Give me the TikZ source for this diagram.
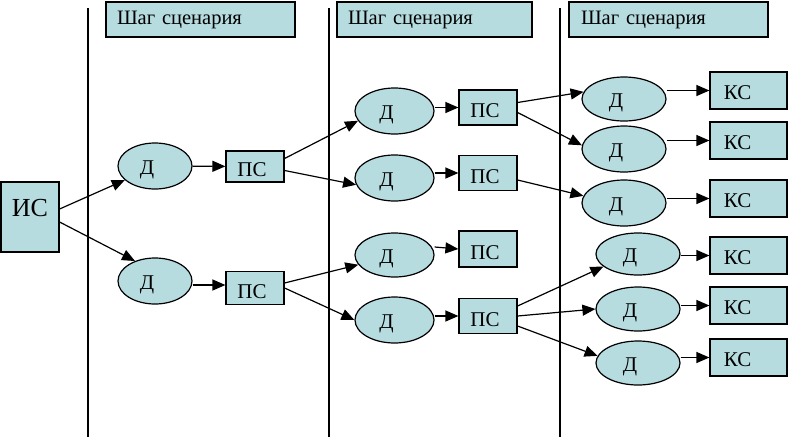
\documentclass[tikz,border=0pt]{standalone}
\usepackage{fontspec}
\setmainfont{Liberation Serif}
\usetikzlibrary{shapes.geometric,arrows.meta,calc}
\definecolor{fillc}{RGB}{182,220,224}
\tikzset{
  box/.style={draw,fill=fillc,line width=1.2pt,inner sep=0pt,rectangle,font=\fontsize{21}{22}\selectfont},
  ell/.style={draw,fill=fillc,line width=1.2pt,inner sep=0pt,ellipse,font=\fontsize{21}{22}\selectfont},
  hdr/.style={draw,fill=fillc,line width=1.2pt,inner sep=0pt,rectangle,minimum height=35pt,text width=175pt,align=left,font=\fontsize{20.5}{22}\selectfont},
  arr/.style={line width=1.2pt,-{Triangle[length=13pt,width=11pt]}},
  sep/.style={line width=1.2pt}
}
\newcommand{\dd}{\raisebox{-3pt}[14pt][4pt]{Д}\hspace*{16pt}}
\newcommand{\ps}{\raisebox{-3pt}[14pt][0pt]{ПС}\hspace*{6pt}}
\newcommand{\ks}{\raisebox{-1.5pt}[14pt][0pt]{КС}\hspace*{22pt}}
\begin{document}
\begin{tikzpicture}[x=1pt,y=-1pt]
\useasboundingbox (0,0) rectangle (788,437);
% separators
\coordinate (s1t) at (88,8);   \coordinate (s1b) at (88,437);
\coordinate (s2t) at (329,8);  \coordinate (s2b) at (329,437);
\coordinate (s3t) at (560,8);  \coordinate (s3b) at (560,437);
\draw[sep] (s1t) -- (s1b);
\draw[sep] (s2t) -- (s2b);
\draw[sep] (s3t) -- (s3b);
% headers
\node[hdr,minimum width=189pt] (h1) at (200.5,19.5) {\hspace*{4pt}Шаг сценария};
\node[hdr,minimum width=195pt] (h2) at (434.5,19.5) {\hspace*{1pt}Шаг сценария};
\node[hdr,minimum width=199pt] (h3) at (668.5,19.5) {\hspace*{0pt}Шаг сценария};
% initial
\node[box,minimum width=58pt,minimum height=70pt,font=\fontsize{26}{28}\selectfont] (IS) at (30,217) {\raisebox{10pt}[18pt][0pt]{ИС}};
% column 1
\node[ell,minimum width=74pt,minimum height=46pt] (D1) at (155,166) {\dd};
\node[box,minimum width=58pt,minimum height=31pt] (P1) at (255,166.5) {\ps};
\node[ell,minimum width=74pt,minimum height=46pt] (D2) at (155,281) {\dd};
\node[box,minimum width=58pt,minimum height=33pt] (P2) at (255,288) {\ps};
% column 2
\node[ell,minimum width=79pt,minimum height=46pt] (Da) at (394.5,111) {\dd};
\node[box,minimum width=58pt,minimum height=35pt] (Pa) at (488,107.5) {\ps};
\node[ell,minimum width=79pt,minimum height=46pt] (Db) at (394.5,178) {\dd};
\node[box,minimum width=58pt,minimum height=35pt] (Pb) at (488,173) {\ps};
\node[ell,minimum width=79pt,minimum height=44pt] (Dc) at (394.5,255) {\dd};
\node[box,minimum width=58pt,minimum height=36pt] (Pc) at (488,249) {\ps};
\node[ell,minimum width=79pt,minimum height=46pt] (Dd) at (394.5,320) {\dd};
\node[box,minimum width=58pt,minimum height=35pt] (Pd) at (488,316) {\ps};
% column 3
\node[ell,minimum width=84pt,minimum height=44pt] (E1) at (624,99) {\dd};
\node[ell,minimum width=84pt,minimum height=46pt] (E2) at (624,149) {\dd};
\node[ell,minimum width=84pt,minimum height=46pt] (E3) at (624,203) {\dd};
\node[ell,minimum width=84pt,minimum height=42pt] (E4) at (638,254) {\dd};
\node[ell,minimum width=84pt,minimum height=44pt] (E5) at (638,309) {\dd};
\node[ell,minimum width=84pt,minimum height=44pt] (E6) at (638,363) {\dd};
\node[box,minimum width=77pt,minimum height=37pt] (K1) at (748.5,90.5) {\ks};
\node[box,minimum width=77pt,minimum height=37pt] (K2) at (748.5,140.5) {\ks};
\node[box,minimum width=77pt,minimum height=37pt] (K3) at (748.5,198.5) {\ks};
\node[box,minimum width=77pt,minimum height=37pt] (K4) at (748.5,255.5) {\ks};
\node[box,minimum width=77pt,minimum height=37pt] (K5) at (748.5,305.5) {\ks};
\node[box,minimum width=77pt,minimum height=37pt] (K6) at (748.5,357.5) {\ks};
% connectors
\draw[arr] ($(IS.east)+(0,-8)$) -- (D1.205);
\draw[arr] ($(IS.east)+(0,5)$) -- (D2.135);
\draw[arr] (D1) -- (P1);
\draw[arr] (D2.east |- 0,285) -- (P2.west |- 0,285);
\draw[arr] ($(P1.east)+(0,-8)$) -- (Da.195);
\draw[arr] ($(P1.east)+(0,4)$) -- (Db.190);
\draw[arr] ($(P2.east)+(0,-5)$) -- (Dc.195);
\draw[arr] ($(P2.east)+(0,0)$) -- (Dd.180);
\draw[arr] (Da.east |- Pa.west) -- (Pa.west);
\draw[arr] (Db.east |- Pb.west) -- (Pb.west);
\draw[arr] ($(Dc.east)+(0,-8)$) -- ($(Pc.west)+(0,0)$);
\draw[arr] ($(Dd.east)+(0,-4)$) -- ($(Pd.west)+(0,0)$);
\draw[arr] ($(Pa.east)+(0,-5)$) -- (E1.170);
\draw[arr] ($(Pa.east)+(0,5)$) -- (E2.175);
\draw[arr] ($(Pb.east)+(0,7)$) -- (E3.170);
\draw[arr] ($(Pd.east)+(0,-10)$) -- (E4.200);
\draw[arr] ($(Pd.east)+(0,0)$) -- (E5.180);
\draw[arr] ($(Pd.east)+(0,10)$) -- (E6.170);
\draw[arr] (E1.east |- K1.west) -- (K1.west);
\draw[arr] (E2.east |- K2.west) -- (K2.west);
\draw[arr] (E3.east |- K3.west) -- (K3.west);
\draw[arr] (E4.east |- K4.west) -- (K4.west);
\draw[arr] (E5.east |- K5.west) -- (K5.west);
\draw[arr] (E6.east |- K6.west) -- (K6.west);
\end{tikzpicture}
\end{document}
